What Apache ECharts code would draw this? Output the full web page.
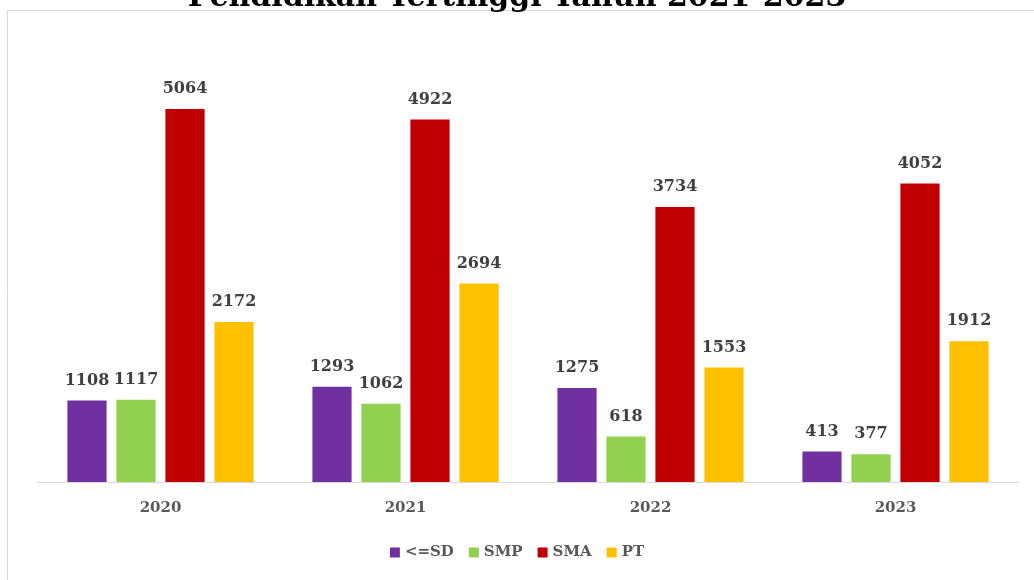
<!DOCTYPE html>
<html>
<head>
<meta charset="utf-8">
<script src="https://cdn.jsdelivr.net/npm/echarts@6/dist/echarts.min.js"></script>
<style>
  html, body { margin: 0; padding: 0; background: #fff; }
  #chart { width: 1034px; height: 580px; }
</style>
</head>
<body>
<div id="chart"></div>
<script>
// data
var years = ['2020', '2021', '2022', '2023'];
var sd  = [1108, 1293, 1275, 413];
var smp = [1117, 1062, 618, 377];
var sma = [5064, 4922, 3734, 4052];
var pt  = [2172, 2694, 1553, 1912];

var seriesNames = ['<=SD', 'SMP', 'SMA', 'PT'];
var seriesData = [sd, smp, sma, pt];
var colors = ['#7030A0', '#92D050', '#C00000', '#FFC000'];
var fontFam = '"DejaVu Serif", "Liberation Serif", serif';

var myChart = echarts.init(document.getElementById('chart'));

var series = seriesNames.map(function (name, i) {
    return {
        name: name,
        type: 'bar',
        data: seriesData[i],
        barGap: '25%',
        barCategoryGap: '24%',
        itemStyle: { color: colors[i] },
        label: {
            show: true,
            position: 'top',
            distance: 12,
            color: '#404040',
            fontFamily: fontFam,
            fontWeight: 'bold',
            fontSize: 16
        }
    };
});

var option = {
    color: colors,
    animation: false,
    graphic: [
        {
            type: 'rect',
            shape: { x: 7.5, y: 10.5, width: 1200, height: 700 },
            style: { fill: 'none', stroke: '#d9d9d9', lineWidth: 1 },
            z: -1
        },
        {
            type: 'text',
            left: 'center',
            top: -17,
            style: {
                text: 'Pendidikan Tertinggi Tahun 2021-2023',
                fontFamily: fontFam,
                fontWeight: 900,
                fontSize: 30,
                fill: '#000'
            }
        }
    ],
    legend: {
        bottom: 15,
        left: 'center',
        itemWidth: 10,
        itemHeight: 10,
        itemGap: 15,
        icon: 'rect',
        textStyle: {
            color: '#595959',
            fontFamily: fontFam,
            fontWeight: 'bold',
            fontSize: 15
        },
        data: seriesNames
    },
    grid: { left: 38, right: 16, top: 40, bottom: 98 },
    xAxis: {
        type: 'category',
        data: years,
        axisTick: { show: false },
        axisLine: { lineStyle: { color: '#d9d9d9', width: 1 } },
        axisLabel: {
            margin: 19,
            color: '#595959',
            fontFamily: fontFam,
            fontWeight: 'bold',
            fontSize: 15
        }
    },
    yAxis: {
        type: 'value',
        min: 0,
        max: 6000,
        show: false,
        splitLine: { show: false }
    },
    series: series
};

myChart.setOption(option);
</script>
</body>
</html>
